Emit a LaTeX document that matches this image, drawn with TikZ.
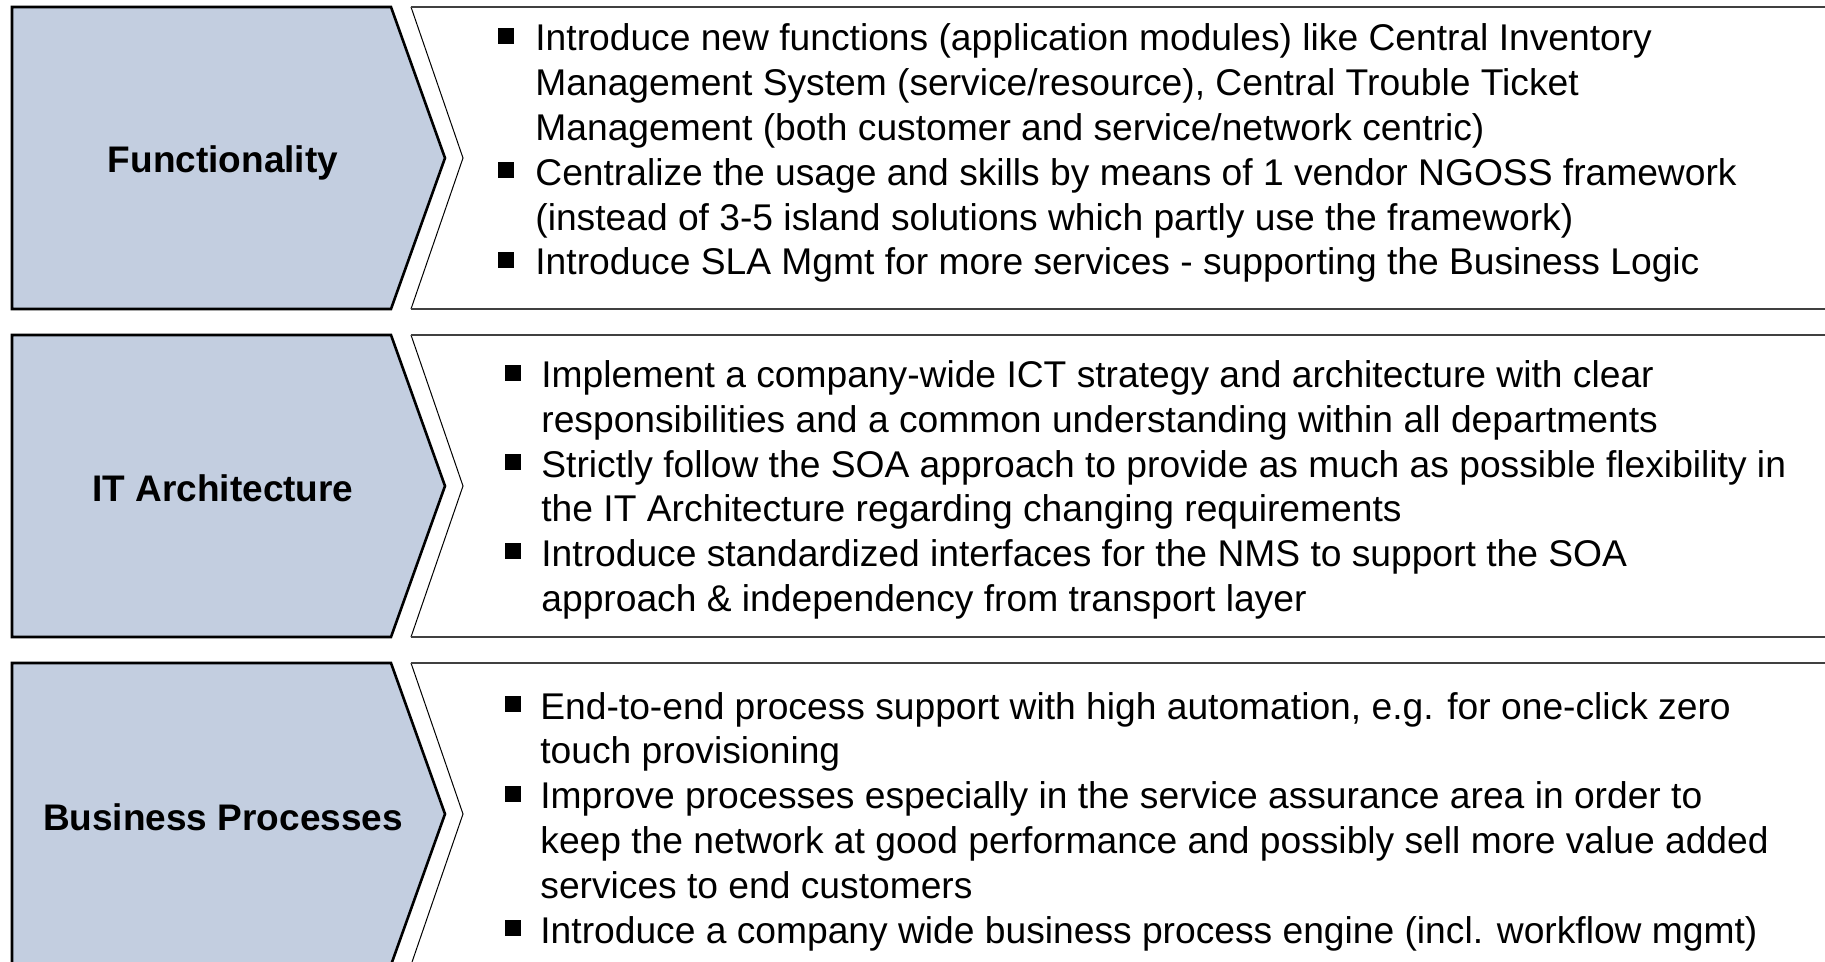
\documentclass[tikz,border=0pt]{standalone}
\usepackage{fontspec}
\setmainfont{Liberation Sans}
\definecolor{chevblue}{HTML}{C3CEE0}
\definecolor{panelline}{HTML}{404040}
\tikzset{
  chev/.style={fill=chevblue, draw=black, line width=1.3pt, line join=miter},
  panel/.style={fill=white, draw=none},
  pedge/.style={draw=black, line width=0.5pt},
  pline/.style={draw=panelline, line width=1pt},
  lbl/.style={anchor=base, inner sep=0pt, font=\fontsize{18.5}{21}\selectfont\bfseries},
  txt/.style={anchor=base west, inner sep=0pt, font=\fontsize{18.6}{22}\selectfont},
  bul/.style={fill=black, draw=none, inner sep=0pt, minimum size=8pt, anchor=center},
}
\newcommand{\tline}[4]{\node[txt] (#1) at (#2,#3) {#4};}
\begin{document}
\begin{tikzpicture}[x=0.5pt,y=-0.5pt]
\useasboundingbox (0,0) rectangle (1825,962);
% ---------- rows ----------
\foreach \T/\n in {7/1,335/2,663/3}{
  \pgfmathsetmacro{\B}{\T+302}
  \pgfmathsetmacro{\M}{\T+151}
  \fill[panel] (411,\T) -- (1830,\T) -- (1830,\B) -- (411,\B) -- (463,\M) -- cycle;
  \draw[pedge] (411,\T) -- (463,\M) -- (411,\B);
  \draw[pline] (411,\T) -- (1830,\T);
  \draw[pline] (411,\B) -- (1830,\B);
  \draw[chev] (12,\T) -- (391,\T) -- (445,\M) -- (391,\B) -- (12,\B) -- cycle;
}
% ---------- labels ----------
\node[lbl] (l1) at (223,173) {Functionality};
\node[lbl] (l2) at (223,502) {IT Architecture};
\node[lbl] (l3) at (223,830) {Business Processes};
% ---------- row 1 ----------
\node[bul] (b11) at (506,36) {};
\node[bul] (b12) at (506,170) {};
\node[bul] (b13) at (506,260) {};
\tline{t11}{535}{51}{Introduce new functions (application modules) like Central Inventory}
\tline{t12}{535}{95.8}{Management System (service/resource), Central Trouble Ticket}
\tline{t13}{535}{140.6}{Management (both customer and service/network centric)}
\tline{t14}{535}{185.4}{Centralize the usage and skills by means of 1 vendor NGOSS framework}
\tline{t15}{535}{230.2}{(instead of 3-5 island solutions which partly use the framework)}
\tline{t16}{535}{275}{Introduce SLA Mgmt for more services - supporting the Business Logic}
% ---------- row 2 ----------
\node[bul] (b21) at (513,373) {};
\node[bul] (b22) at (513,462) {};
\node[bul] (b23) at (513,551) {};
\tline{t21}{541}{388}{Implement a company-wide ICT strategy and architecture with clear}
\tline{t22}{541}{432.6}{responsibilities and a common understanding within all departments}
\tline{t23}{541}{477.2}{Strictly follow the SOA approach to provide as much as possible flexibility in}
\tline{t24}{541}{521.8}{the IT Architecture regarding changing requirements}
\tline{t25}{541}{566.4}{Introduce standardized interfaces for the NMS to support the SOA}
\tline{t26}{541}{611}{approach \& independency from transport layer}
% ---------- row 3 ----------
\node[bul] (b31) at (513,704) {};
\node[bul] (b32) at (513,794) {};
\node[bul] (b33) at (513,928) {};
\tline{t31}{540}{719}{End-to-end process support with high automation, e.g. for one-click zero}
\tline{t32}{540}{763.8}{touch provisioning}
\tline{t33}{540}{808.6}{Improve processes especially in the service assurance area in order to}
\tline{t34}{540}{853.4}{keep the network at good performance and possibly sell more value added}
\tline{t35}{540}{898.2}{services to end customers}
\tline{t36}{540}{943}{Introduce a company wide business process engine (incl. workflow mgmt)}
\end{tikzpicture}
\end{document}
